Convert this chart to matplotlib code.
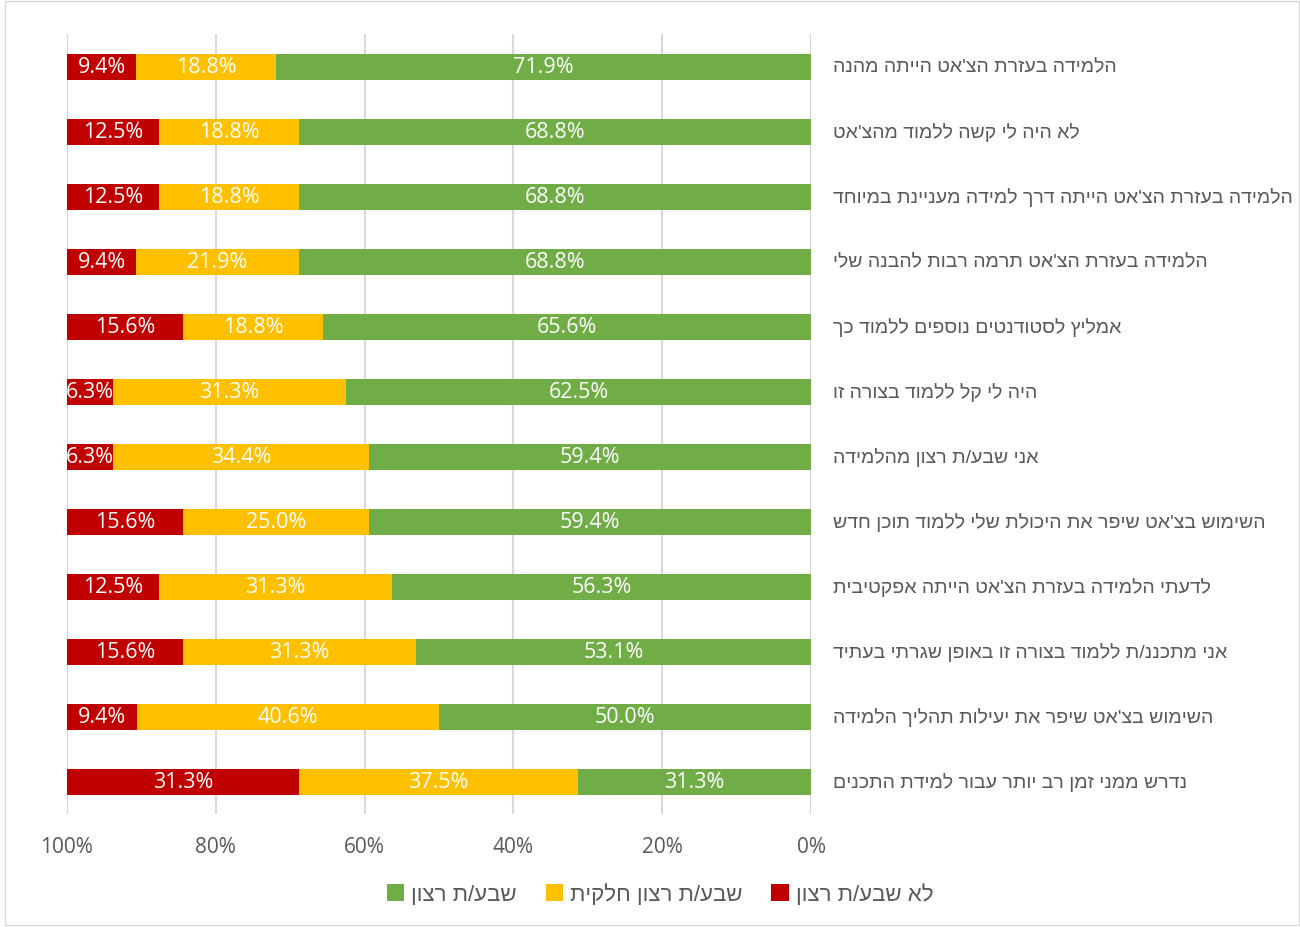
import matplotlib.pyplot as plt
import matplotlib.transforms as mtransforms
import numpy as np
from matplotlib.patches import Rectangle

# statements, top to bottom
statements = [
    "הלמידה בעזרת הצ'אט הייתה מהנה",
    "לא היה לי קשה ללמוד מהצ'אט",
    "הלמידה בעזרת הצ'אט הייתה דרך למידה מעניינת במיוחד",
    "הלמידה בעזרת הצ'אט תרמה רבות להבנה שלי",
    "אמליץ לסטודנטים נוספים ללמוד כך",
    "היה לי קל ללמוד בצורה זו",
    "אני שבע/ת רצון מהלמידה",
    "השימוש בצ'אט שיפר את היכולת שלי ללמוד תוכן חדש",
    "לדעתי הלמידה בעזרת הצ'אט הייתה אפקטיבית",
    "אני מתכננ/ת ללמוד בצורה זו באופן שגרתי בעתיד",
    "השימוש בצ'אט שיפר את יעילות תהליך הלמידה",
    "נדרש ממני זמן רב יותר עבור למידת התכנים",
]
satisfied = [71.9, 68.8, 68.8, 68.8, 65.6, 62.5, 59.4, 59.4, 56.3, 53.1, 50.0, 31.3]
partial = [18.8, 18.8, 18.8, 21.9, 18.8, 31.3, 34.4, 25.0, 31.3, 31.3, 40.6, 37.5]
not_satisfied = [9.4, 12.5, 12.5, 9.4, 15.6, 6.3, 6.3, 15.6, 12.5, 15.6, 9.4, 31.3]
series_names = ["שבע/ת רצון", "שבע/ת רצון חלקית", "לא שבע/ת רצון"]


def rtl(s):
    # matplotlib has no bidi support, so flip hebrew to visual order
    return s[::-1]


green, yellow, red = '#70ad47', '#ffc000', '#c00000'
grey = '#595959'
num_font = ['Open Sans', 'DejaVu Sans']
heb_font = ['Liberation Sans', 'DejaVu Sans']

fig = plt.figure(figsize=(13, 9.28), dpi=100)
ax = fig.add_axes([67 / 1300, 1 - 815 / 928, (811 - 67) / 1300, (815 - 35) / 928])

y = np.arange(len(statements))
sat = np.array(satisfied)
par = np.array(partial)
nsat = np.array(not_satisfied)

b1 = ax.barh(y, sat, height=0.4, color=green, label=rtl(series_names[0]), zorder=3)
b2 = ax.barh(y, par, left=sat, height=0.4, color=yellow, label=rtl(series_names[1]), zorder=3)
b3 = ax.barh(y, nsat, left=sat + par, height=0.4, color=red, label=rtl(series_names[2]), zorder=3)

for bars in (b1, b2, b3):
    ax.bar_label(bars, labels=['%.1f%%' % b.get_width() for b in bars], label_type='center',
                 color='white', fontsize=15.5, family=num_font)

ax.set_xlim(100, 0)
ax.set_ylim(len(statements) - 0.5, -0.5)
ax.set_xticks([100, 80, 60, 40, 20, 0])
ax.set_xticklabels(['100%', '80%', '60%', '40%', '20%', '0%'], fontsize=15, color=grey, family=num_font)
ax.tick_params(axis='x', length=0, pad=16)
ax.set_yticks([])
ax.grid(axis='x', color='#d9d9d9', linewidth=1.5, zorder=0)
for sp in ax.spines.values():
    sp.set_visible(False)

# statement labels on the right of the plot area
trans = mtransforms.blended_transform_factory(fig.transFigure, ax.transData)
for i, s in enumerate(statements):
    ax.text(833 / 1300, y[i], rtl(s), transform=trans, fontsize=14, color=grey,
            ha='left', va='center', family=heb_font)

fig.legend(handles=[b1, b2, b3], loc='center', bbox_to_anchor=(660 / 1300, 1 - 895 / 928), ncol=3,
           frameon=False, markerfirst=True, handlelength=0.8, handleheight=0.8,
           columnspacing=1.3, handletextpad=0.3,
           prop={'family': heb_font, 'size': 16}, labelcolor=grey)

fig.patches.append(Rectangle((5 / 1300, 0.002), 1 - 6 / 1300, 0.996, transform=fig.transFigure,
                             fill=False, edgecolor='#d9d9d9', linewidth=1))

fig.savefig('out.png', dpi=100, facecolor='white')
